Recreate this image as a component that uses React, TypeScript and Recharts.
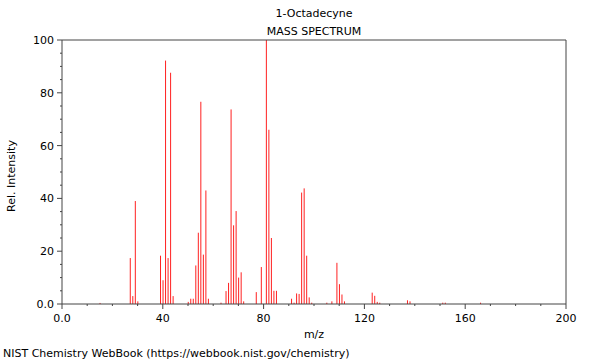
import React from "react";
import { ComposedChart, Bar, XAxis, YAxis, Label, ReferenceLine } from "recharts";

// peaks (m/z -> relative intensity)
const mzValues = [
  15, 27, 28, 29, 30, 39, 40, 41, 42, 43, 44, 50, 51, 52, 53, 54, 55, 56, 57, 58,
  63, 65, 66, 67, 68, 69, 70, 71, 72, 77, 79, 81, 82, 83, 84, 85, 91, 92, 93, 94,
  95, 96, 97, 98, 99, 105, 107, 109, 110, 111, 112, 123, 124, 125, 126, 137, 138,
  151, 152, 166,
];
const intensities = [
  0.4, 17.4, 3.0, 39.0, 1.0, 18.3, 9.0, 92.2, 17.4, 87.6, 3.0, 0.8, 2.0, 2.0, 14.6, 27.0, 76.6, 18.7, 43.0, 2.0,
  0.5, 4.9, 8.0, 73.7, 29.8, 35.2, 10.0, 12.0, 1.0, 4.5, 14.0, 100, 66.0, 25.0, 5.0, 5.0, 2.0, 0.5, 4.0, 3.8,
  42.2, 43.8, 18.3, 2.5, 0.5, 0.5, 1.0, 15.6, 7.5, 3.6, 1.0, 4.3, 3.1, 0.8, 0.5, 1.4, 1.0,
  0.5, 0.5, 0.5,
];

const xTicks = [0, 10, 20, 30, 40, 50, 60, 70, 80, 90, 100, 110, 120, 130, 140, 150, 160, 170, 180, 190, 200];
const yTicks = [0, 5, 10, 15, 20, 25, 30, 35, 40, 45, 50, 55, 60, 65, 70, 75, 80, 85, 90, 95, 100];

const data = mzValues.map((mz, i) => ({ mz, intensity: intensities[i] }));

const axisColor = "#444";
const font = "DejaVu Sans, sans-serif";

function fmt(v: number) {
  return v === 0 ? "0.0" : String(v);
}

function YTick(props: any) {
  const { x, y, payload } = props;
  const major = payload.value % 20 === 0;
  return (
    <g>
      <line x1={x} x2={x - (major ? 5 : 2)} y1={y} y2={y} stroke={axisColor} />
      {major && (
        <text x={x - 8} y={y + 4} textAnchor="end" fontSize={11} fontFamily={font} fill="#000">
          {fmt(payload.value)}
        </text>
      )}
    </g>
  );
}

function XTick(props: any) {
  const { x, y, payload } = props;
  const major = payload.value % 40 === 0;
  return (
    <g>
      <line x1={x} x2={x} y1={y} y2={y + (major ? 5 : 2)} stroke={axisColor} />
      {major && (
        <text x={x} y={y + 18} textAnchor="middle" fontSize={11} fontFamily={font} fill="#000">
          {fmt(payload.value)}
        </text>
      )}
    </g>
  );
}

function PeakLine(props: any) {
  const { x, y, width, height } = props;
  if (!height) return null;
  const cx = x + width / 2;
  return <line x1={cx} x2={cx} y1={y} y2={y + height} stroke="#ff2020" strokeWidth={1} />;
}

export default function App() {
  return (
    <div style={{ position: "absolute", left: 0, top: 0, width: 600, height: 360, background: "#fff", fontFamily: font }}>
      <div style={{ position: "absolute", left: 0, width: 628, top: 7, textAlign: "center", fontSize: 11, color: "#000" }}>
        1-Octadecyne
      </div>
      <div style={{ position: "absolute", left: 0, width: 628, top: 25, textAlign: "center", fontSize: 11, color: "#000" }}>
        MASS SPECTRUM
      </div>
      <ComposedChart width={600} height={360} data={data} margin={{ top: 40, right: 34, left: 0, bottom: 0 }}>
        <XAxis
          dataKey="mz"
          type="number"
          domain={[0, 200]}
          ticks={xTicks}
          interval={0}
          tickSize={0}
          tickMargin={0}
          height={56}
          stroke={axisColor}
          tick={<XTick />}
          allowDataOverflow
        >
          <Label
            content={(p: any) => (
              <text x={p.viewBox.x + p.viewBox.width / 2} y={p.viewBox.y + 34} textAnchor="middle" fontSize={11} fontFamily={font} fill="#000">
                m/z
              </text>
            )}
          />
        </XAxis>
        <YAxis
          type="number"
          domain={[0, 100]}
          ticks={yTicks}
          interval={0}
          tickSize={0}
          tickMargin={0}
          width={62}
          stroke={axisColor}
          tick={<YTick />}
          allowDataOverflow
        >
          <Label
            content={(p: any) => {
              const cx = 15;
              const cy = p.viewBox.y + p.viewBox.height / 2 + 4;
              return (
                <text x={cx} y={cy} transform={`rotate(-90, ${cx}, ${cy})`} textAnchor="middle" fontSize={11} fontFamily={font} fill="#000">
                  Rel. Intensity
                </text>
              );
            }}
          />
        </YAxis>
        <ReferenceLine y={100} stroke={axisColor} />
        <ReferenceLine x={200} stroke={axisColor} />
        <Bar dataKey="intensity" barSize={1} shape={<PeakLine />} isAnimationActive={false} />
      </ComposedChart>
      <div style={{ position: "absolute", left: 3, top: 347, fontSize: 11, color: "#000", whiteSpace: "nowrap" }}>
        NIST Chemistry WebBook (https://webbook.nist.gov/chemistry)
      </div>
    </div>
  );
}
